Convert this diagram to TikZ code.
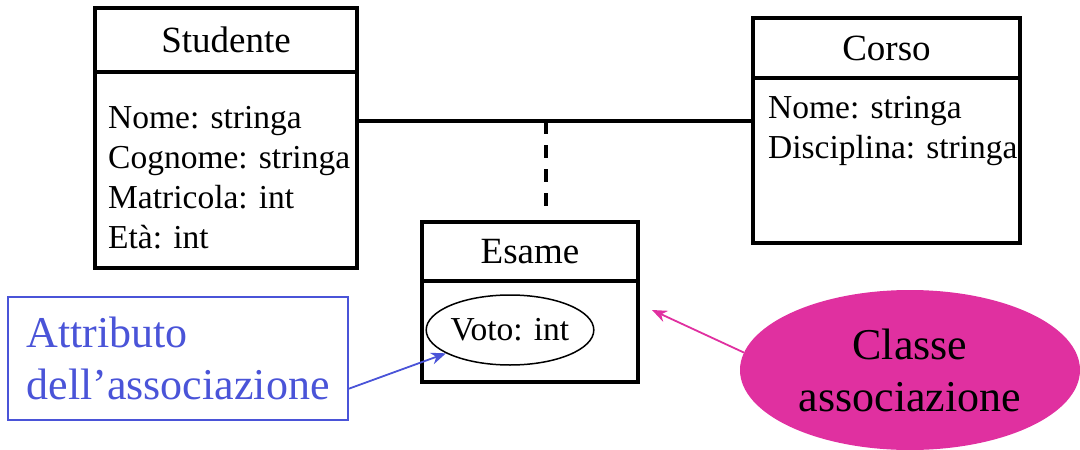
\documentclass[tikz,border=0pt]{standalone}
\usepackage{fontspec}
\setmainfont{Liberation Serif}
\usepackage{xcolor}
\usetikzlibrary{arrows.meta,shapes,positioning}
\definecolor{attrblue}{RGB}{74,84,216}
\definecolor{assocpink}{RGB}{224,48,160}
\newcommand{\attrfont}{\fontsize{33.5}{40}\selectfont}
\newcommand{\titlefont}{\fontsize{37}{44}\selectfont}
\newcommand{\notefont}{\fontsize{44}{52}\selectfont}

\begin{document}
\begin{tikzpicture}[x=1pt,y=-1pt]
			\tikzstyle{every node}=[font=\attrfont]
			\tikzstyle{classhead}=[draw, line width=3.4pt, inner sep=0pt, outer sep=0pt, font=\titlefont]
			\tikzstyle{classbody}=[draw, line width=3.4pt, inner sep=0pt, outer sep=0pt]
			\tikzstyle{attr}=[anchor=base west, inner sep=0pt]
			\useasboundingbox (0,0) rectangle (1080,450);
			\node [classhead, minimum width=262pt, minimum height=64pt] (studhead) at (226,40) {Studente};
			\node [classbody, minimum width=262pt, minimum height=196pt, below=0pt of studhead] (studbody) {};
			\node [classhead, minimum width=267pt, minimum height=60pt] (corsohead) at (886.5,48) {Corso};
			\node [classbody, minimum width=267pt, minimum height=165pt, below=0pt of corsohead] (corsobody) {};
			\node [classhead, minimum width=216pt, minimum height=59pt] (esamehead) at (530,251.5) {Esame};
			\node [classbody, minimum width=216pt, minimum height=101pt, below=0pt of esamehead] (esamebody) {};
			\foreach \t [count=\i] in {Nome: stringa, Cognome: stringa, Matricola: int, Età: int}
				\node [attr] (studattr\i) at (108,88+40*\i) {\t};
			\foreach \t [count=\i] in {Nome: stringa, Disciplina: stringa}
				\node [attr] (corsoattr\i) at (768,78+40*\i) {\t};
			\node [draw, ellipse, line width=1.5pt, minimum width=164pt, minimum height=70pt, inner sep=0pt] (voto) at (510,330) {Voto: int};
			\node [draw=attrblue, line width=2pt, minimum width=340pt, minimum height=123pt, inner sep=0pt, text=attrblue, font=\notefont, align=left] (attrnote) at (178,358.5) {Attributo\\dell’associazione};
			\node [ellipse, fill=assocpink, minimum width=340pt, minimum height=160pt, inner sep=0pt, font=\notefont, align=center] (classe) at (910,370) {Classe\\associazione};
			\coordinate (mid) at (546,121);
			\coordinate (dashend) at (546,210);
			\coordinate (classetip) at (652,310);
			\draw [line width=3.4pt] (studbody.east |- mid) -- (corsobody.west |- mid);
			\draw [line width=4pt, dash pattern=on 13pt off 11pt] (mid) -- (dashend);
			\draw [attrblue, line width=1.8pt, -{Stealth[length=15pt, width=12pt]}] (attrnote.-10) -- (voto);
			\draw [assocpink, line width=1.8pt, -{Stealth[length=15pt, width=12pt]}] (classe.174) -- (classetip);
		\end{tikzpicture}
\end{document}
